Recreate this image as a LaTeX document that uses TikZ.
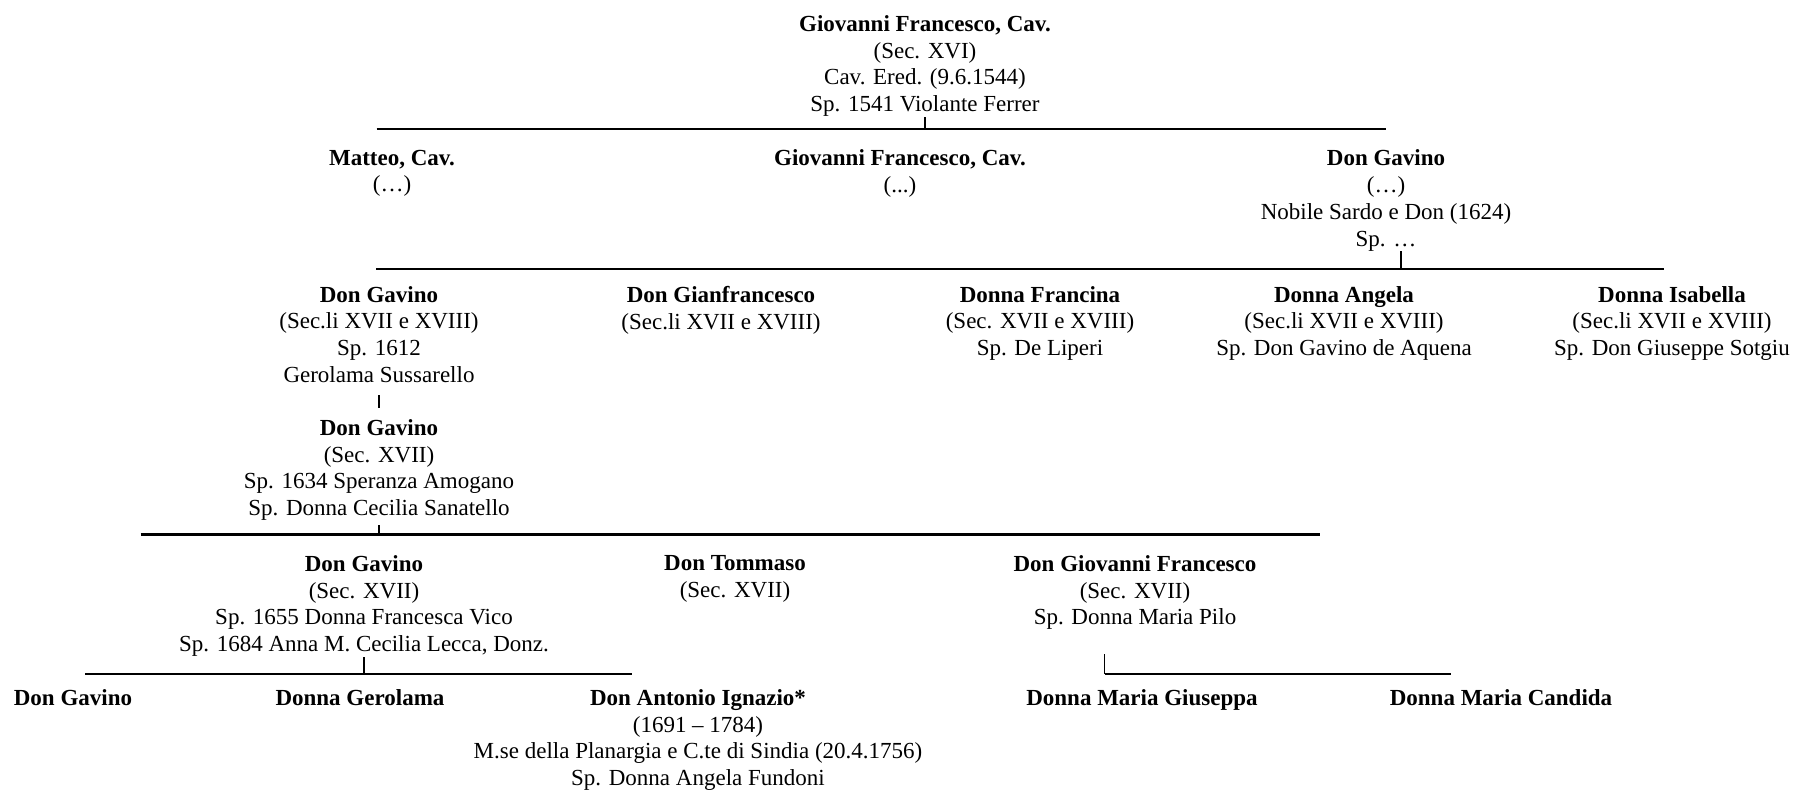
\documentclass[tikz,border=0pt]{standalone}
\usepackage{fontspec}
\setmainfont{Liberation Serif}
\usetikzlibrary{calc}
\tikzset{%
    pers/.style={align=center, inner sep=0pt, anchor=north, font=\fontsize{11.5pt}{13.4pt}\selectfont},
    bar/.style={line width=1.1pt},
    tick/.style={line width=0.6pt},
}
\newcommand{\nm}[1]{\textbf{#1}}

\begin{document}
\begin{tikzpicture}[x=0.5pt,y=-0.5pt]
    \useasboundingbox (0,0) rectangle (1796,791);
    % first generation
    \node[pers] (gfA) at (925,15) {\nm{Giovanni Francesco, Cav.}\\(Sec. XVI)\\Cav. Ered. (9.6.1544)\\Sp. 1541 Violante Ferrer};
    \coordinate (barAw) at (376.5,129.3);
    \coordinate (barAe) at (1386,129.3);
    \draw[bar] (barAw) -- (barAe);
    \draw[tick] (gfA.south) -- (gfA.south |- barAw);
    % second generation
    \node[pers] (matB) at (392,149.4) {\nm{Matteo, Cav.}\\(…)};
    \node[pers] (gfB) at (900,149.4) {\nm{Giovanni Francesco, Cav.}\\(...)};
    \node[pers] (gavB) at (1386,149.4) {\nm{Don Gavino}\\(…)\\Nobile Sardo e Don (1624)\\Sp. …};
    \coordinate (barBw) at (376,269.3);
    \coordinate (barBe) at (1664,269.3);
    \draw[bar] (barBw) -- (barBe);
    \draw[tick] ([xshift=7.5pt]gavB.south) -- ([xshift=7.5pt]gavB.south |- barBw);
    % third generation
    \node[pers] (gavC) at (379,285.7) {\nm{Don Gavino}\\(Sec.li XVII e XVIII)\\Sp. 1612\\Gerolama Sussarello};
    \node[pers] (gianC) at (721,285.7) {\nm{Don Gianfrancesco}\\(Sec.li XVII e XVIII)};
    \node[pers] (franC) at (1040,285.7) {\nm{Donna Francina}\\(Sec. XVII e XVIII)\\Sp. De Liperi};
    \node[pers] (angC) at (1344,285.7) {\nm{Donna Angela}\\(Sec.li XVII e XVIII)\\Sp. Don Gavino de Aquena};
    \node[pers] (isaC) at (1672,285.7) {\nm{Donna Isabella}\\(Sec.li XVII e XVIII)\\Sp. Don Giuseppe Sotgiu};
    % fourth generation
    \node[pers] (gavD) at (379,419) {\nm{Don Gavino}\\(Sec. XVII)\\Sp. 1634 Speranza Amogano\\Sp. Donna Cecilia Sanatello};
    \draw[tick] ([yshift=-6pt]gavC.south) -- ([yshift=5.5pt]gavD.north);
    \coordinate (barDw) at (140.6,534.5);
    \coordinate (barDe) at (1320,534.5);
    \draw[bar] (barDw) -- (barDe);
    \draw[tick] ([yshift=-2pt]gavD.south) -- (gavD.south |- barDw);
    % fifth generation
    \node[pers] (gavE) at (364,555) {\nm{Don Gavino}\\(Sec. XVII)\\Sp. 1655 Donna Francesca Vico\\Sp. 1684 Anna M. Cecilia Lecca, Donz.};
    \node[pers] (tomE) at (735,555) {\nm{Don Tommaso}\\(Sec. XVII)};
    \node[pers] (gfE) at (1135,555) {\nm{Don Giovanni Francesco}\\(Sec. XVII)\\Sp. Donna Maria Pilo};
    \coordinate (barEw) at (85,674);
    \coordinate (barEe) at (631.5,674);
    \draw[bar] (barEw) -- (barEe);
    \draw[tick] (gavE.south) -- (gavE.south |- barEw);
    \coordinate (barGw) at (1104.6,674);
    \coordinate (barGe) at (1451,674);
    \draw[bar] (barGw) -- (barGe);
    \draw[tick] ([shift={(-15.2pt,-12pt)}]gfE.south) -- (barGw);
    % sixth generation
    \node[pers] (gavF) at (73,689) {\nm{Don Gavino}};
    \node[pers] (gerF) at (360,689) {\nm{Donna Gerolama}};
    \node[pers] (antF) at (698,689) {\nm{Don Antonio Ignazio*}\\(1691 -- 1784)\\M.se della Planargia e C.te di Sindia (20.4.1756)\\Sp. Donna Angela Fundoni};
    \node[pers] (giuF) at (1142,689) {\nm{Donna Maria Giuseppa}};
    \node[pers] (canF) at (1501,689) {\nm{Donna Maria Candida}};
\end{tikzpicture}
\end{document}
